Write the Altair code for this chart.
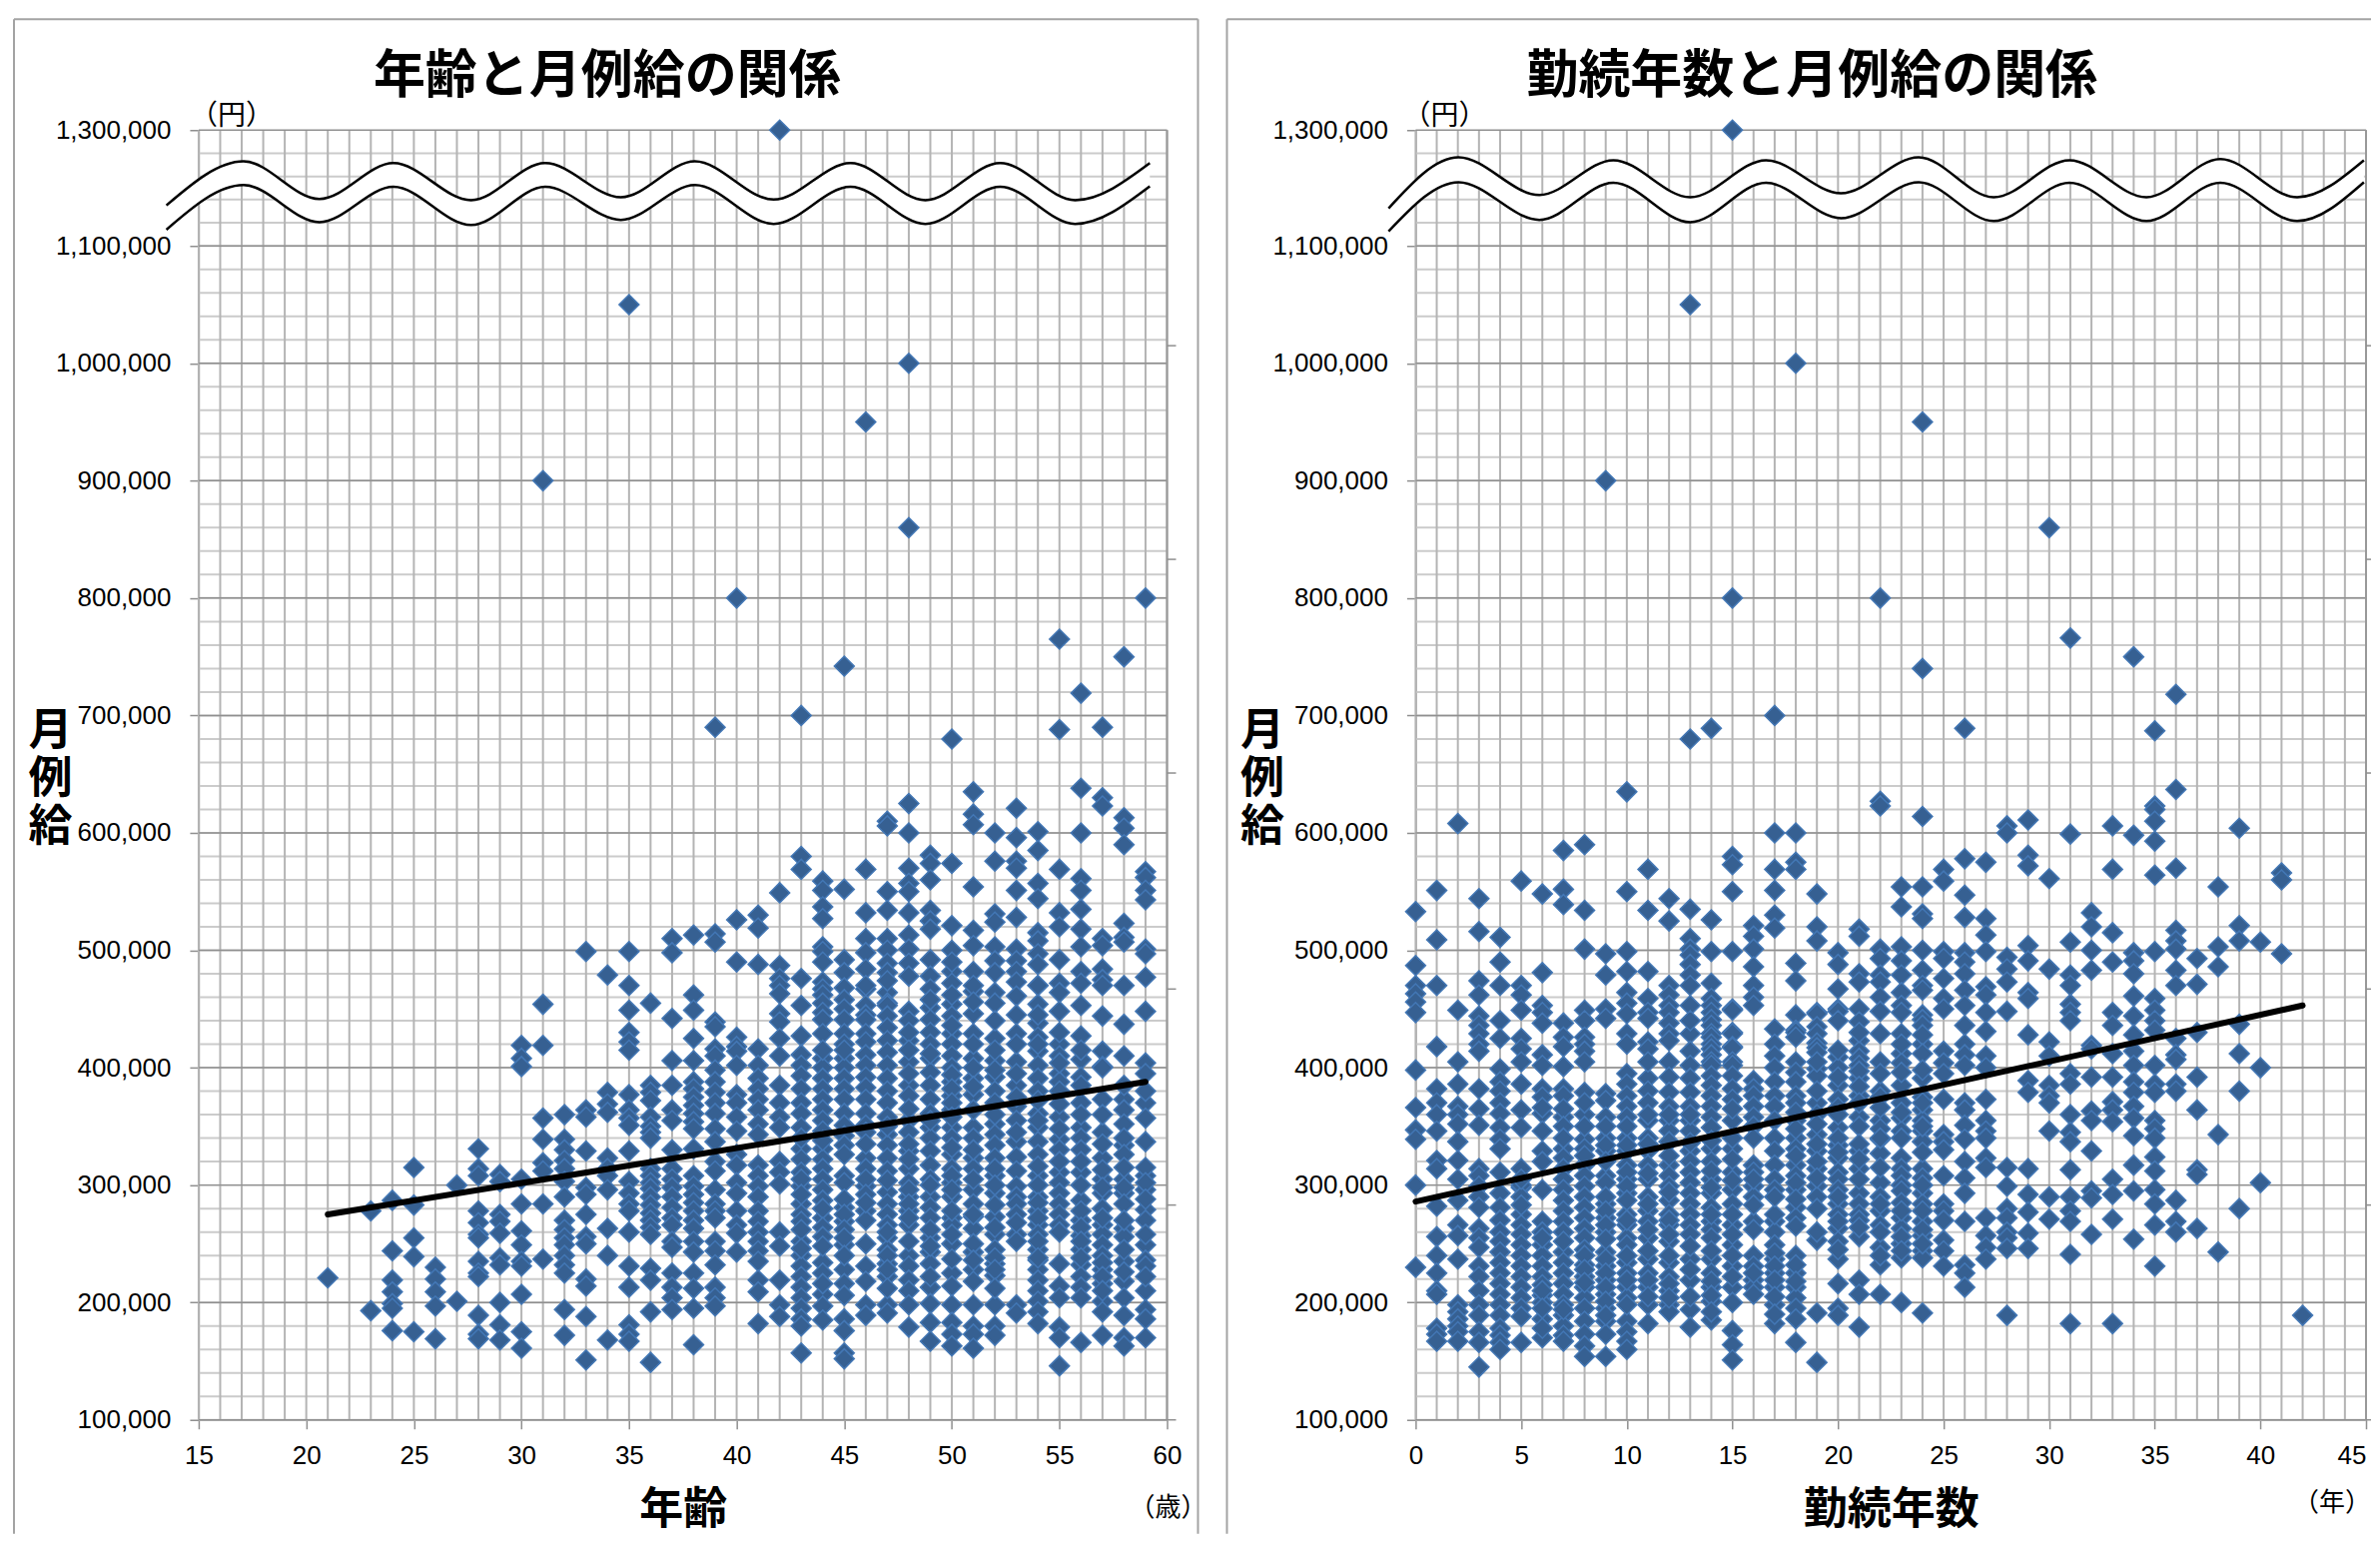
import altair as alt
import pandas as pd

alt.data_transformers.disable_max_rows()

# ---- values (thousand yen) ----
ages = list(range(21, 60))
salary_by_age = [
 [221],
 [],
 [278,193],
 [287,244,219,209,199,195,176],
 [315,283,255,239,175],
 [230,220,209,197,169],
 [300,201],
 [331,314,308,278,268,258,255,235,225,222,189,173,169],
 [309,303,275,269,259,238,232,200,181,168],
 [419,408,401,305,284,261,249,235,231,207,175,161],
 [900,454,419,357,339,319,312,284,237],
 [360,339,330,321,314,303,290,270,262,255,249,240,232,225,194,172],
 [499,364,358,329,298,292,275,256,250,220,214,188,151],
 [479,379,369,362,323,314,308,296,263,240,168],
 [1050,499,470,449,430,422,415,377,364,357,351,329,303,293,284,278,260,231,213,181,173,167],
 [455,385,379,372,358,350,345,340,314,308,302,297,290,283,276,270,264,258,229,219,192,149],
 [510,498,442,406,385,364,355,330,314,305,298,290,281,272,266,252,247,225,213,204,194],
 [513,462,449,425,406,388,382,375,368,361,354,348,331,308,299,292,285,278,270,263,252,243,225,212,195,164],
 [690,514,507,439,435,416,410,398,388,379,370,361,348,337,320,312,296,284,278,272,252,244,232,213,204,197],
 [800,526,490,426,418,414,402,377,370,358,346,326,317,302,293,278,266,259,243],
 [530,519,488,416,402,391,382,373,364,352,343,317,308,299,290,278,269,260,252,244,235,219,209,182],
 [1300,549,487,476,470,463,446,439,425,410,385,370,358,349,320,311,301,260,248,219,198,188],
 [700,580,569,476,453,427,411,402,393,382,370,361,349,331,322,311,299,284,275,269,252,240,231,222,213,204,195,186,180,157,340,305,292,262,246],
 [559,551,537,527,503,499,490,473,467,462,455,447,441,429,408,400,391,382,373,364,355,346,331,322,314,305,296,287,272,234,225,207,197,185,415,338,280,264,256,248,216],
 [742,552,492,481,468,458,450,441,429,420,408,400,391,382,373,361,351,342,334,326,308,302,281,269,249,228,216,206,186,176,157,152,415,288,275,262,255,240],
 [950,569,532,510,498,484,467,453,445,441,429,422,411,402,392,383,373,361,351,323,314,299,278,270,250,231,218,198,189,470,345,335,305,292,285],
 [610,606,550,534,510,500,489,481,464,455,453,444,434,423,413,402,391,380,370,358,343,334,323,312,294,284,275,266,255,245,233,222,198,191,474,350,304,260,240,228,212],
 [1000,860,625,600,570,557,550,532,513,501,489,478,448,423,405,385,376,355,329,314,302,290,278,266,240,231,219,210,198,179,440,430,415,395,365,345,335,322,296,284,272,252],
 [581,574,560,534,525,518,492,478,467,451,441,430,420,408,396,385,373,349,340,329,317,305,290,281,272,255,243,233,213,199,183,167,458,412,361,355,300,262,248,222],
 [680,574,521,500,482,472,454,444,429,420,410,400,388,376,364,349,340,326,314,302,290,272,266,250,225,214,198,183,173,163,490,462,436,394,382,370,358,332,308,296,278,258,237],
 [635,616,607,554,517,504,482,465,446,429,408,391,377,349,340,323,314,296,284,273,263,243,228,218,198,180,173,161,470,456,420,400,384,364,330,305,275,250,236],
 [600,576,531,524,503,491,481,464,425,406,392,380,352,343,334,323,308,293,273,258,245,233,223,198,180,172,455,440,415,398,370,360,314,300,283,264,238,228,212],
 [621,596,576,570,551,528,501,491,482,473,461,445,429,405,385,367,337,324,312,299,290,284,258,252,198,191,420,395,375,355,345,275,268],
 [601,585,557,544,515,508,497,488,470,454,438,426,414,402,391,380,361,349,337,308,290,278,266,245,236,228,219,210,201,192,182,470,445,420,372,355,326,316,300,285,272,258,252,238],
 [765,688,569,532,520,492,472,464,448,420,410,395,388,358,339,311,302,293,284,275,266,260,233,214,204,179,170,146,430,404,380,369,348,330,320],
 [719,638,600,561,551,535,518,503,482,472,453,427,407,392,370,349,340,311,287,270,257,245,232,222,213,204,166,415,385,360,330,320,300,278,264,252,238],
 [690,630,623,510,504,484,475,470,444,414,401,373,345,323,305,293,266,258,249,240,228,216,201,192,172,400,360,335,313,298,280,272,234,222,210],
 [750,613,604,590,523,511,507,470,437,410,373,364,352,334,305,293,263,256,235,218,204,189,170,163,385,340,326,315,298,284,270,245,226],
 [800,567,562,551,543,501,497,477,448,404,370,357,337,308,296,279,249,236,231,210,194,186,170,395,380,315,302,288,270,258,222],
]
age_trend_x = [21, 59]
age_trend_y = [275, 388]

years = list(range(0, 43))
salary_by_years = [
 [533,487,470,463,456,447,398,366,347,339,300,230],
 [551,509,470,418,382,370,360,346,321,314,282,256,240,225,210,207,178,173,167],
 [608,449,405,386,367,360,352,337,321,305,287,266,257,237,198,192,186,180,175,167],
 [544,516,474,462,444,436,429,420,414,382,365,351,314,308,299,290,281,263,255,247,231,222,210,198,189,175,166,145],
 [511,490,470,440,425,399,388,380,370,361,349,339,331,311,293,281,270,260,252,243,234,225,216,207,198,189,178,172,166,160],
 [559,470,462,449,425,416,405,386,364,349,314,298,275,266,258,249,240,231,222,213,204,195,188,166,300,290,283,305],
 [548,481,453,447,438,411,402,382,361,346,329,320,296,269,260,249,240,231,206,200,186,170,375,366,255,222,215,210,195,178],
 [585,552,539,438,426,418,401,382,376,358,331,323,314,305,296,287,278,269,260,243,234,225,216,207,198,189,180,172,167,365,350,340,252,194],
 [590,534,501,449,440,426,420,414,379,360,339,331,317,308,299,290,281,272,263,255,232,222,213,204,195,184,173,163,154,405,370,350,325,245,240,228,217],
 [900,497,479,450,442,378,372,358,340,329,308,302,284,272,260,243,231,219,207,195,184,173,154,350,334,320,290,278,266,254,237,225,213,201,189],
 [635,550,499,482,464,455,446,429,395,386,376,367,358,340,329,317,305,293,275,266,255,249,234,225,213,204,184,175,167,160,420,350,334,311,299,287,270,240,219,198],
 [569,534,482,459,447,442,422,416,391,380,370,355,340,329,317,305,290,278,269,255,237,225,213,198,182,405,360,335,310,284,262,244,219,205],
 [544,525,470,462,453,447,438,429,423,405,392,379,367,355,346,337,317,308,299,287,275,266,252,234,222,210,198,192,360,325,294,270,258,240,216,204],
 [1050,680,535,510,501,496,488,479,470,453,429,414,402,391,379,367,355,346,329,320,311,302,293,284,275,266,258,237,219,194,179,440,360,336,248,228,205],
 [689,526,499,472,459,453,447,441,436,429,426,420,416,411,405,402,393,385,376,367,358,349,331,320,305,293,281,269,262,237,225,213,201,185,338,312,298,275,255,244,218,206,192],
 [1300,800,580,573,550,499,450,449,430,429,418,417,405,402,393,382,373,355,331,311,296,284,266,249,231,213,200,176,164,151,365,340,322,304,275,258,240,222],
 [521,512,501,486,470,460,453,389,382,376,367,358,317,311,299,290,269,240,231,219,213,207,350,340,305,283,262,225],
 [700,600,569,551,530,519,433,420,410,400,388,376,367,355,340,329,317,305,296,269,260,249,237,225,213,198,182,275,290,242,231,219,205,190],
 [1000,600,575,569,489,474,445,432,430,426,405,396,388,376,355,340,331,317,308,296,281,272,240,225,213,204,195,186,166,370,362,348,325,302,288,265,232,218],
 [548,520,508,447,446,435,429,421,417,413,399,393,370,343,329,314,299,290,280,253,191,149,405,380,360,352,335,320,306,260],
 [498,488,467,450,448,409,400,385,373,349,334,323,311,284,275,263,252,237,216,195,189,440,415,392,366,360,340,328,305,296,290,269,245],
 [518,512,480,473,450,439,423,414,408,402,391,376,358,329,314,293,284,275,256,219,207,179,430,397,384,370,350,335,322,305,270,264],
 [800,627,623,501,493,479,473,460,448,429,405,380,355,348,339,327,302,290,278,266,247,232,207,395,375,366,340,315,284,260,240],
 [554,537,503,491,479,464,453,447,429,412,404,385,370,357,346,323,314,308,272,263,250,238,200,420,396,362,340,300,295,285,278,256,244],
 [950,740,614,554,531,527,500,483,470,466,445,441,436,420,391,375,364,355,346,337,314,306,293,284,269,257,244,238,191,428,412,398,370,350,328,300,278,262,250],
 [569,559,499,493,476,459,450,414,404,395,373,343,337,330,308,284,278,270,253,244,231],
 [689,578,547,528,498,490,480,466,453,436,420,411,402,370,364,351,339,320,306,293,269,232,225,213],
 [575,527,513,499,469,462,447,431,410,400,373,355,346,340,323,315,272,257,247,237],
 [606,600,494,484,473,448,315,299,280,272,260,255,246,189],
 [611,581,572,504,491,464,459,428,389,379,314,292,277,259,246],
 [860,561,484,422,410,385,376,370,346,290,271],
 [766,599,507,479,470,454,447,440,395,386,360,345,337,313,290,278,269,241,182],
 [532,520,500,483,419,416,392,363,355,329,295,289,258],
 [606,569,515,490,447,436,412,392,371,364,354,305,292,271,182],
 [750,598,498,491,480,461,444,428,414,402,388,379,367,357,342,317,295,254],
 [687,623,620,610,593,564,499,459,449,440,432,402,386,379,355,348,340,324,312,296,284,266,231],
 [718,637,570,517,508,501,483,470,425,411,407,386,380,287,269,260],
 [493,471,430,392,364,313,309,263],
 [554,503,486,343,243],
 [604,521,508,437,412,380,280],
 [507,400,302],
 [566,560,497],
 [189],
]
years_trend_x = [0, 42]
years_trend_y = [286, 453]

y_major = [100000*i for i in range(1, 12)] + [1300000]
y_minor = [100000 + 20000*i for i in range(0, 51)] + [1140000, 1180000, 1220000, 1260000]
side_ticks = [283000, 467000, 651000, 833000, 1015000]

# wave break, in axis units
age_wave_x = [13.5,17.09,20.61,24.05,27.66,31.1,34.62,38.06,41.72,45.29,48.77,52.25,55.73,59.2]
age_wave_hi = [1170,1246,1181,1243,1179,1243,1184,1246,1180,1243,1179,1243,1179,1243]
age_wave_lo = [1128,1205,1141,1202,1136,1202,1145,1205,1138,1202,1138,1202,1138,1203]
yrs_wave_x = [-1.28,2.03,5.86,9.36,13.0,16.59,20.14,23.82,27.37,30.96,34.6,38.1,41.74,44.9]
yrs_wave_hi = [1165,1253,1188,1248,1184,1248,1191,1253,1184,1248,1184,1250,1184,1248]
yrs_wave_lo = [1125,1210,1145,1209,1141,1209,1148,1210,1143,1209,1143,1209,1143,1210]

CJK = "Noto Sans CJK JP"
NUM = "Liberation Sans"
H = 1292
PW = [970, 952]
GRID_V = "#b4b4b4"
GRID_MINOR = "#cbcbcb"
GRID_MAJOR = "#8f8f8f"
FRAME = "#a3a3a3"
PT_FILL = "#366092"
PT_STROKE = "#4377b5"
BOTTOM = 1406


def panel(xs, cols, trend_x, trend_y, wave_x, wave_hi, wave_lo, domain, x_values, width,
          title, title_x, xtitle, frame_left, frame_right, unit_y_x, unit_x_text, unit_x_pos, unit_x_y, ylab_x,
          stub, last_label):
    rows = [{"x": a, "y": v*1000} for a, c in zip(xs, cols) for v in c]
    pts = pd.DataFrame(rows)
    xscale = alt.Scale(domain=domain, nice=False, zero=False)
    yscale = alt.Scale(domain=[100000, 1100000, 1300000], range=[H, 116, 0], nice=False, zero=False)
    xaxis = alt.Axis(
        values=x_values, title=xtitle, titleFont=CJK, titleFontSize=44, titleFontWeight="bold", titleColor="black",
        titleY=91, titleBaseline="middle", labelFont=NUM, labelFontSize=26, labelColor="black",
        labelPadding=14, tickSize=9, tickColor=GRID_MAJOR, tickWidth=1.5, domainColor=GRID_MAJOR,
        domainWidth=1.5, grid=False, labelFlush=False, labelOverlap=False,
        labelAlign=alt.ExprRef(f"datum.value == {last_label} ? 'right' : 'center'"))
    yaxis = alt.Axis(
        values=y_major, labelExpr="format(datum.value, ',')", title=["月", "例", "給"], titleFont=CJK, titleFontSize=44,
        titleFontWeight="bold", titleColor="black", titleAngle=0, titleX=ylab_x, titleY=580, titleAlign="center",
        titleBaseline="top", titleLineHeight=48.5, labelFont=NUM, labelFontSize=26, labelColor="black", labelPadding=19,
        tickSize=9, tickColor=GRID_MAJOR, tickWidth=1.5, domainColor=GRID_MAJOR, domainWidth=1.5, grid=False,
        labelOverlap=False)
    X = alt.X("x:Q", scale=xscale, axis=xaxis)
    Y = alt.Y("y:Q", scale=yscale, axis=yaxis)

    v_df = pd.DataFrame({"x": list(range(domain[0], domain[1]+1))})
    vgrid = alt.Chart(v_df).mark_rule(color=GRID_V, strokeWidth=2).encode(x=X)
    mn = alt.Chart(pd.DataFrame({"y": y_minor})).mark_rule(color=GRID_MINOR, strokeWidth=2).encode(y=Y)
    mj = alt.Chart(pd.DataFrame({"y": y_major})).mark_rule(color=GRID_MAJOR, strokeWidth=1.5).encode(y=Y)
    side = alt.Chart(pd.DataFrame({"y": side_ticks})).mark_rule(color=GRID_MAJOR, strokeWidth=1.5).encode(
        y=Y, x=alt.value(width), x2=alt.value(width+stub))
    base_ext = alt.Chart(pd.DataFrame({"y": [100000]})).mark_rule(color=GRID_MAJOR, strokeWidth=1.5).encode(
        y=Y, x=alt.value(width), x2=alt.value(width+stub))
    edge = alt.Chart(pd.DataFrame({"x": [domain[1]]})).mark_rule(color="#999999", strokeWidth=2).encode(x=X)

    main = alt.Chart(pts).mark_point(shape="diamond", filled=True, fill=PT_FILL, stroke=PT_STROKE,
                                     strokeWidth=1.5, opacity=1, size=400).encode(x=X, y=Y)

    trend = alt.Chart(pd.DataFrame({"x": trend_x, "y": [v*1000 for v in trend_y]})).mark_line(
        color="black", strokeWidth=6, strokeCap="round").encode(x=X, y=Y)

    wdf = pd.DataFrame({"x": wave_x, "hi": [v*1000 for v in wave_hi], "lo": [v*1000 for v in wave_lo]})
    w_fill = alt.Chart(wdf).mark_area(color="white", interpolate="monotone", opacity=1).encode(
        x=X, y=alt.Y("hi:Q", scale=yscale, axis=yaxis), y2="lo:Q")
    w_hi = alt.Chart(wdf).mark_line(color="black", strokeWidth=2.5, interpolate="monotone").encode(
        x=X, y=alt.Y("hi:Q", scale=yscale, axis=yaxis))
    w_lo = alt.Chart(wdf).mark_line(color="black", strokeWidth=2.5, interpolate="monotone").encode(
        x=X, y=alt.Y("lo:Q", scale=yscale, axis=yaxis))

    fr = alt.Chart(pd.DataFrame({"i": [0]}))
    frames = [
        fr.mark_rule(color=FRAME, strokeWidth=2).encode(x=alt.value(frame_left), x2=alt.value(frame_right), y=alt.value(-111)),
        fr.mark_rule(color=FRAME, strokeWidth=2).encode(x=alt.value(frame_left), y=alt.value(-111), y2=alt.value(BOTTOM)),
    ]
    if width == 970:
        frames.append(fr.mark_rule(color=FRAME, strokeWidth=2).encode(x=alt.value(frame_right), y=alt.value(-111), y2=alt.value(BOTTOM)))

    title_m = fr.mark_text(text=title, font=CJK, fontSize=52, fontWeight="bold", color="black").encode(
        x=alt.value(title_x), y=alt.value(-53))
    unit_y = fr.mark_text(text="（円）", font=CJK, fontSize=28, color="black").encode(
        x=alt.value(unit_y_x), y=alt.value(-13))
    unit_x = fr.mark_text(text=unit_x_text, font=CJK, fontSize=26, color="black").encode(
        x=alt.value(unit_x_pos), y=alt.value(unit_x_y))

    return alt.layer(mn, vgrid, mj, edge, side, base_ext, main, trend, w_fill, w_hi, w_lo,
                     title_m, unit_y, unit_x, *frames).properties(width=width, height=H)


left = panel(ages, salary_by_age, age_trend_x, age_trend_y, age_wave_x, age_wave_hi, age_wave_lo,
             [15, 60], list(range(15, 61, 5)), PW[0], "年齢と月例給の関係", 409, "年齢",
             -185, 1001, 33, "（歳）", 971, 1380, -149, 9, 999)
right = panel(years, salary_by_years, years_trend_x, years_trend_y, yrs_wave_x, yrs_wave_hi, yrs_wave_lo,
              [0, 45], list(range(0, 46, 5)), PW[1], "勤続年数と月例給の関係", 397, "勤続年数",
              -189, 957, 29, "（年）", 918, 1375, -154, 5, 45)

chart = alt.hconcat(left, right, spacing=18).properties(
    padding={"left": 5, "top": 10, "right": 0, "bottom": 0}, background="white"
).configure_view(stroke=None)

chart.save("out.html", embed_options={"renderer": "svg", "actions": False})
